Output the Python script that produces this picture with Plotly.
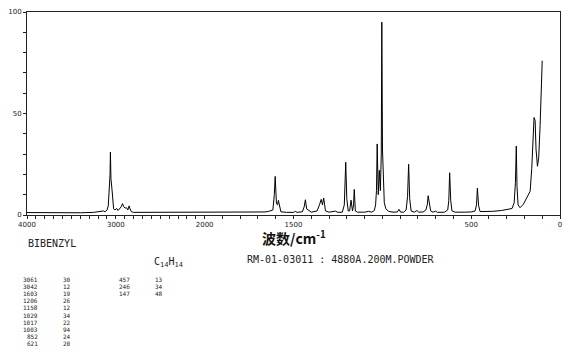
import plotly.graph_objects as go

# ---- spectrum (wavenumber cm-1, relative intensity) ----
wavenumber = [4000, 3800, 3600, 3400, 3250, 3180, 3140, 3120, 3100, 3085, 3072, 3065,
              3061, 3055, 3042, 3036, 3025, 3010, 2990, 2975, 2955, 2940, 2925, 2910,
              2895, 2880, 2865, 2850, 2840, 2825, 2800, 2600, 2400, 2200, 2000, 1800,
              1700, 1660, 1639, 1616, 1608, 1603, 1596, 1590, 1585, 1579, 1571, 1540,
              1500, 1489, 1480, 1450, 1440, 1433, 1426, 1400, 1367, 1354, 1344, 1337,
              1330, 1320, 1300, 1264, 1250, 1225, 1214, 1206, 1200, 1192, 1184, 1176,
              1168, 1162, 1158, 1152, 1140, 1100, 1077, 1060, 1045, 1038, 1033, 1029,
              1023, 1017, 1011, 1006, 1003, 999, 995, 989, 980, 965, 940, 915, 906,
              897, 880, 866, 858, 852, 846, 838, 820, 805, 795, 770, 755, 747, 742,
              736, 728, 715, 700, 690, 650, 632, 626, 621, 615, 608, 590, 540, 500,
              478, 470, 465, 458, 450, 420, 380, 330, 290, 270, 258, 251, 246, 242,
              236, 225, 206, 187, 168, 159, 153, 146, 140, 135, 127, 120, 112, 105, 100]
intensity = [1.2, 1.1, 1.2, 1.1, 1.3, 1.6, 2.0, 1.6, 2.4, 4.5, 12, 20,
             31, 18, 12, 6, 3, 2.5, 3.2, 2.2, 3.0, 4.0, 5.6, 4.0,
             3.4, 3.6, 2.5, 4.5, 3.0, 1.6, 1.3, 1.3, 1.2, 1.2, 1.2, 1.3,
             1.4, 1.5, 1.8, 2.5, 10, 19, 5.5, 5.0, 7.2, 5.0, 1.6, 1.3,
             1.3, 1.8, 1.3, 1.6, 4.0, 7.5, 3.0, 1.4, 2.0, 5.0, 7.7, 5.0,
             8.4, 2.0, 1.4, 1.9, 1.3, 1.4, 5.0, 26, 8.0, 2.0, 2.0, 7.3,
             2.0, 5.0, 12.6, 2.0, 1.4, 1.4, 1.8, 1.4, 2.2, 5.0, 12, 35,
             10, 22, 12, 30, 95, 32, 16, 6.0, 3.0, 1.8, 1.4, 1.5, 2.8,
             1.4, 1.4, 2.5, 9.0, 25, 8.0, 2.0, 1.4, 2.2, 1.4, 1.5, 2.5, 5.0, 9.5,
             6.5, 2.0, 1.4, 1.9, 1.3, 1.4, 2.5, 7.0, 20.8, 7.0, 2.0, 1.4, 1.4, 1.5,
             2.0, 5.0, 13.2, 4.5, 1.7, 1.6, 1.8, 2.2, 2.8, 3.2, 6.0, 16, 34, 14,
             5.0, 3.6, 5.3, 8.4, 11.7, 23, 36, 48, 46.5, 32.5, 24, 28, 44, 63.5, 76]

# ---- axis ticks ----
x_minor_wavenumbers = list(range(4000, 2000, -100)) + list(range(2000, -1, -100))
x_label_wavenumbers = [4000, 3000, 2000, 1500, 500, 0]
x_label_texts = ["4000", "3000", "2000", "1500", "500", "0"]
y_minor_values = list(range(0, 101, 10))
y_label_values = [0, 50, 100]
y_label_texts = ["0", "50", "100"]

# ---- peak table ----
peak_wavenumbers = ["3061", "3042", "1603", "1206", "1158", "1029", "1017", "1003", "852", "621",
                    "457", "246", "147"]
peak_intensities = ["30", "12", "19", "26", "12", "34", "22", "94", "24", "20",
                    "13", "34", "48"]

compound_name = "BIBENZYL"
formula = "C<sub>14</sub>H<sub>14</sub>"
info_text = "RM-01-03011 : 4880A.200M.POWDER"
x_title = "<b>波数/cm<sup>-1</sup></b>"


def axis_pos(w):
    """Two-scale Raman axis: 4000-2000 compressed, 2000-0 expanded x2."""
    return (4000 - w) / 2.0 if w >= 2000 else 1000 + (2000 - w)


fig = go.Figure()
fig.add_trace(go.Scatter(
    x=[axis_pos(w) for w in wavenumber], y=intensity, mode="lines",
    line=dict(color="black", width=1), hoverinfo="skip", showlegend=False))

L, R, T, B = 26, 10, 8, 142
W, H = 570, 357
PW, PH = W - L - R, H - T - B


def px2paper(px, py):
    return (px - L) / PW, (H - B - py) / PH


def add_text(text, px, py, size, xanchor="left", family="DejaVu Sans Mono", color="#222"):
    xp, yp = px2paper(px, py)
    fig.add_annotation(x=xp, y=yp, xref="paper", yref="paper", text=text, showarrow=False,
                       xanchor=xanchor, yanchor="middle", font=dict(size=size, family=family, color=color))


add_text(x_title, 294, 238, 14, xanchor="center", family="Noto Sans CJK SC", color="#111")
add_text(compound_name, 25, 244, 10)
add_text(formula, 151, 263, 10)
add_text(info_text, 244, 260, 10)

row_y0, row_dy = 280.5, 7.3
for i, (wn, it) in enumerate(zip(peak_wavenumbers, peak_intensities)):
    col = i // 10
    row = i % 10
    y = row_y0 + row * row_dy
    if col == 0:
        add_text(wn, 39, y, 6, xanchor="right")
        add_text(it, 72, y, 6, xanchor="right")
    else:
        add_text(wn, 131, y, 6, xanchor="right")
        add_text(it, 164, y, 6, xanchor="right")

tick_style = dict(ticks="outside", ticklen=3, tickcolor="#222", tickwidth=1)
fig.update_layout(
    width=W, height=H, margin=dict(l=L, r=R, t=T, b=B),
    paper_bgcolor="white", plot_bgcolor="white",
    xaxis=dict(range=[0, 3000], showgrid=False, zeroline=False,
               showline=True, linecolor="#222", linewidth=1, mirror=True,
               tickmode="array",
               tickvals=[axis_pos(w) for w in x_label_wavenumbers],
               ticktext=x_label_texts,
               minor=dict(tickmode="array", tickvals=[axis_pos(w) for w in x_minor_wavenumbers],
                          showgrid=False, **tick_style),
               tickfont=dict(size=7, family="DejaVu Sans", color="#222"), **tick_style),
    yaxis=dict(range=[0, 100], showgrid=False, zeroline=False,
               showline=True, linecolor="#222", linewidth=1, mirror=True,
               tickmode="array",
               tickvals=y_label_values, ticktext=y_label_texts,
               minor=dict(tickmode="array", tickvals=y_minor_values, showgrid=False, **tick_style),
               tickfont=dict(size=7, family="DejaVu Sans", color="#222"), **tick_style),
)

fig.write_html("out.html")
